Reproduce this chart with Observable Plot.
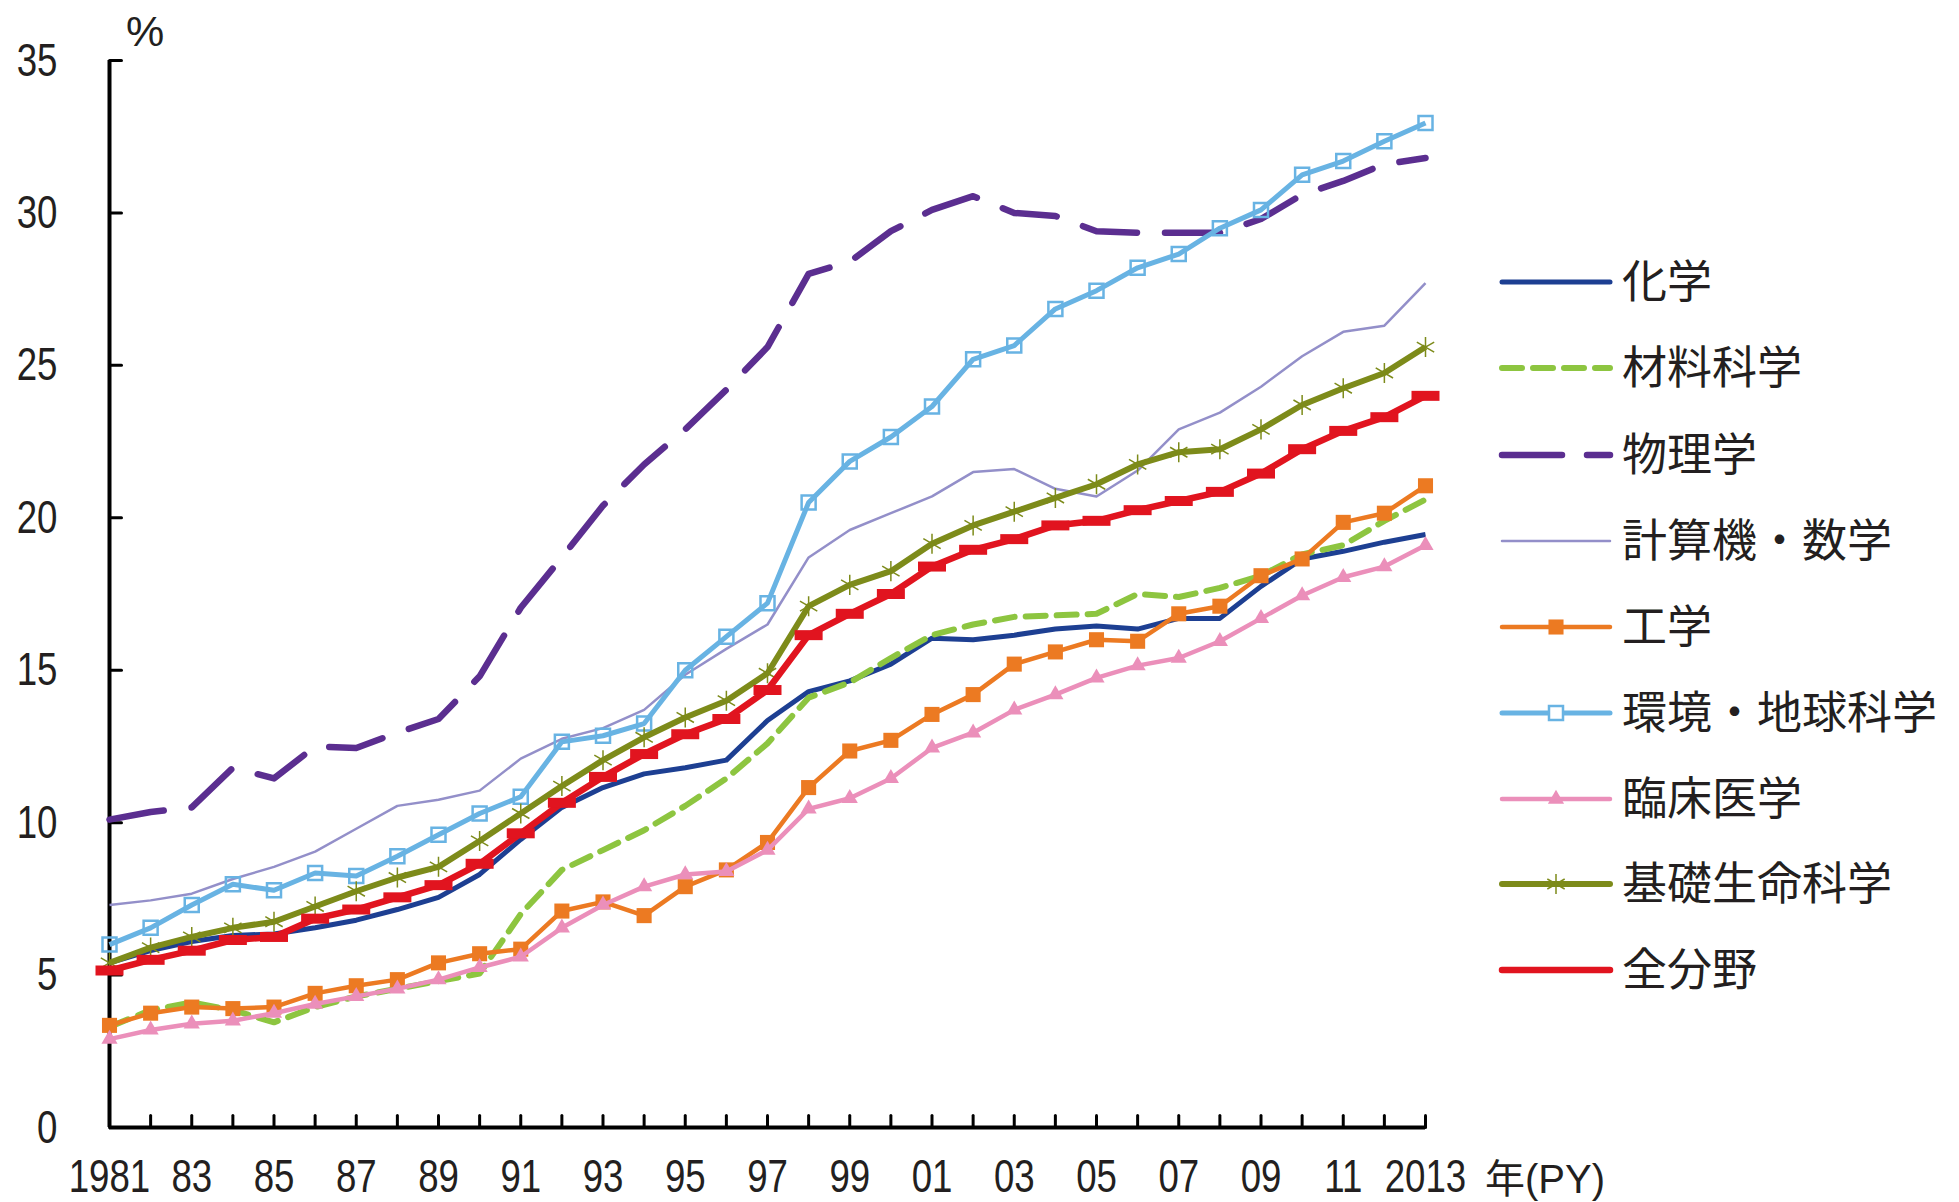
<!DOCTYPE html>
<html>
<head>
<meta charset="utf-8">
<script src="https://cdn.jsdelivr.net/npm/d3@7"></script>
<script src="https://cdn.jsdelivr.net/npm/@observablehq/plot@0.6"></script>
<style>
  html, body { margin: 0; padding: 0; background: #fff; }
  #wrap { position: relative; width: 1959px; height: 1202px; overflow: hidden; }
  #wrap svg.overlay { position: absolute; left: 0; top: 0; pointer-events: none; }
</style>
</head>
<body>
<div id="wrap"></div>
<script>
// Publication years (PY)
const years = [1981,1982,1983,1984,1985,1986,1987,1988,1989,1990,1991,1992,1993,1994,1995,1996,1997,
               1998,1999,2000,2001,2002,2003,2004,2005,2006,2007,2008,2009,2010,2011,2012,2013];

// Share (%) by field, one value per year
const chemistry   = [5.4,5.8,6.1,6.3,6.35,6.55,6.8,7.15,7.55,8.3,9.45,10.5,11.15,11.6,11.8,12.05,13.35,
                     14.3,14.65,15.2,16.05,16.0,16.15,16.35,16.45,16.35,16.7,16.7,17.75,18.65,18.9,19.2,19.45];
const materials   = [3.3,3.85,4.1,3.85,3.45,3.95,4.3,4.55,4.8,5.05,7.0,8.45,9.1,9.75,10.55,11.45,12.6,
                     14.1,14.6,15.4,16.15,16.5,16.75,16.8,16.85,17.5,17.4,17.7,18.1,18.8,19.1,19.9,20.6];
const physics     = [10.1,10.35,10.5,11.8,11.45,12.5,12.45,12.95,13.4,14.8,17.05,18.7,20.4,21.75,22.9,24.2,25.6,
                     28.0,28.4,29.4,30.1,30.55,30.0,29.9,29.4,29.35,29.35,29.35,29.8,30.6,31.05,31.6,31.8];
const computing   = [7.3,7.45,7.67,8.15,8.55,9.05,9.8,10.55,10.75,11.05,12.1,12.75,13.1,13.7,14.85,15.7,16.5,
                     18.7,19.6,20.15,20.7,21.5,21.6,20.95,20.7,21.55,22.9,23.45,24.3,25.3,26.1,26.3,27.7];
const engineering = [3.35,3.75,3.95,3.9,3.95,4.4,4.65,4.85,5.4,5.7,5.85,7.1,7.4,6.95,7.9,8.45,9.35,
                     11.15,12.35,12.7,13.55,14.2,15.2,15.6,16.0,15.95,16.85,17.1,18.1,18.65,19.85,20.15,21.05];
const environment = [6.0,6.55,7.3,7.98,7.78,8.35,8.25,8.9,9.6,10.3,10.85,12.65,12.85,13.25,15.0,16.1,17.2,
                     20.5,21.85,22.65,23.65,25.2,25.65,26.85,27.45,28.2,28.65,29.5,30.1,31.25,31.7,32.35,32.95];
const clinical    = [2.9,3.2,3.4,3.5,3.75,4.05,4.3,4.55,4.85,5.25,5.6,6.55,7.3,7.9,8.3,8.4,9.1,
                     10.45,10.8,11.45,12.45,12.95,13.7,14.2,14.75,15.15,15.4,15.95,16.7,17.45,18.05,18.4,19.1];
const biology     = [5.4,5.9,6.25,6.55,6.75,7.25,7.75,8.2,8.55,9.4,10.3,11.2,12.05,12.8,13.45,14.0,14.9,
                     17.1,17.8,18.25,19.15,19.75,20.2,20.65,21.1,21.75,22.15,22.25,22.9,23.7,24.25,24.75,25.6];
const allFields   = [5.15,5.5,5.8,6.15,6.25,6.85,7.15,7.55,7.95,8.65,9.65,10.65,11.5,12.25,12.9,13.4,14.35,
                     16.15,16.85,17.5,18.4,18.95,19.3,19.75,19.9,20.25,20.55,20.85,21.45,22.25,22.85,23.3,24.0];

const seriesNames = ["化学","材料科学","物理学","計算機・数学","工学","環境・地球科学","臨床医学","基礎生命科学","全分野"];
const seriesValues = [chemistry, materials, physics, computing, engineering, environment, clinical, biology, allFields];

// Axis ticks and labels
const yTicks = [0, 5, 10, 15, 20, 25, 30, 35];
const xLabelYears = [1981,1983,1985,1987,1989,1991,1993,1995,1997,1999,2001,2003,2005,2007,2009,2011,2013];
const xLabels = ["1981","83","85","87","89","91","93","95","97","99","01","03","05","07","09","11","2013"];

// A wide horizontal bar marker
const barSymbol = {
  draw(context) {
    context.moveTo(-14, -5); context.lineTo(14, -5);
    context.lineTo(14, 5); context.lineTo(-14, 5); context.closePath();
  }
};

// Line and marker styling per field
const styles = {
  "化学":         {stroke: "#1d3f92", width: 5},
  "材料科学":     {stroke: "#8dc540", width: 6, dash: "20,11"},
  "物理学":       {stroke: "#5b2e90", width: 6.5, dash: "55,28"},
  "計算機・数学": {stroke: "#938fc9", width: 2.5},
  "工学":         {stroke: "#ec7a22", width: 4.5, symbol: "square", r: 8.5, fill: "#ec7a22"},
  "環境・地球科学": {stroke: "#68b3e3", width: 5, symbol: "square", r: 7.9, fill: "none", mstroke: "#68b3e3", mwidth: 2.5},
  "臨床医学":     {stroke: "#eb8fba", width: 4.5, symbol: "triangle", r: 6, fill: "#eb8fba"},
  "基礎生命科学": {stroke: "#7d8b1a", width: 6, symbol: "asterisk", r: 9.5, fill: "none", mstroke: "#7d8b1a", mwidth: 1.5},
  "全分野":       {stroke: "#e1141f", width: 6.5, symbol: barSymbol, r: 8, fill: "#e1141f"}
};

// Long-format table built from the arrays above
const table = [];
seriesNames.forEach((name, i) => {
  years.forEach((year, j) => table.push({series: name, year, value: seriesValues[i][j]}));
});

const tickLine = (dx, dy) => ({draw(context, l) { context.moveTo(0, 0); context.lineTo(dx * l, dy * l); }});
const textColor = "#231f20";
const numFont = "'Liberation Sans', Arial, sans-serif";

const marks = [
  // axis lines
  Plot.ruleX([1981], {y1: 0, y2: 35, stroke: "#000", strokeWidth: 4}),
  Plot.ruleY([0], {x1: 1981, x2: 2013, stroke: "#000", strokeWidth: 4}),
  // inward tick marks
  Plot.vector(yTicks, {x: () => 1981, y: d => d, length: 12, shape: tickLine(1, 0), anchor: "start", stroke: "#000", strokeWidth: 3}),
  Plot.vector(years.slice(1), {x: d => d, y: () => 0, length: 12, shape: tickLine(0, -1), anchor: "start", stroke: "#000", strokeWidth: 3}),
  // tick labels
  Plot.axisY(yTicks, {tickSize: 0, tickPadding: 52, label: null, fontSize: 47, fontFamily: numFont, fill: textColor}),
  Plot.axisX(xLabelYears, {tickSize: 0, tickPadding: 31, label: null, fontSize: 47, fontFamily: numFont, fill: textColor,
                           tickFormat: d => xLabels[xLabelYears.indexOf(d)]})
];

seriesNames.forEach(name => {
  const s = styles[name];
  const rows = table.filter(d => d.series === name);
  marks.push(Plot.line(rows, {x: "year", y: "value", stroke: s.stroke, strokeWidth: s.width,
    strokeDasharray: s.dash, strokeLinecap: s.dash ? "round" : "butt", strokeLinejoin: "round", curve: "linear"}));
  if (s.symbol) {
    marks.push(Plot.dot(rows, {x: "year", y: "value", symbol: () => s.symbol, r: s.r,
      fill: s.fill, stroke: s.mstroke || "none", strokeWidth: s.mwidth || 0}));
  }
});

const chart = Plot.plot({
  width: 1959,
  height: 1202,
  marginLeft: 109,
  marginRight: 534,
  marginTop: 60,
  marginBottom: 75,
  x: {domain: [1981, 2013]},
  y: {domain: [0, 35]},
  symbol: {type: "identity"},
  style: {background: "#fff", overflow: "visible"},
  marks
});
document.getElementById("wrap").appendChild(chart);

// Condensed numerals on both axes: squeeze each tick label horizontally about its anchor
d3.select(chart).selectAll("g[aria-label$='tick label'] text").each(function() {
  const t = this.getAttribute("transform") || "";
  this.setAttribute("transform", `${t} scale(0.78,1)`);
});

// Unit, axis title and legend
const overlay = d3.select("#wrap").append("svg")
  .attr("class", "overlay").attr("width", 1959).attr("height", 1202);

overlay.append("text").attr("x", 126).attr("y", 46)
  .style("font-family", "'Liberation Sans', sans-serif").style("font-size", "43px").attr("fill", textColor)
  .text("%");

overlay.append("text").attr("x", 1485).attr("y", 1193)
  .style("font-family", "'Liberation Sans', 'Noto Sans CJK JP', sans-serif").style("font-size", "40px").attr("fill", textColor)
  .text("年(PY)");

const legendY = [282, 368, 455, 541, 627, 713, 799, 884, 970];
seriesNames.forEach((name, i) => {
  const s = styles[name];
  const g = overlay.append("g").attr("transform", `translate(0,${legendY[i]})`);
  g.append("line").attr("x1", 1502).attr("x2", 1610).attr("y1", 0).attr("y2", 0)
    .attr("stroke", s.stroke).attr("stroke-width", s.width)
    .attr("stroke-dasharray", name === "物理学" ? "60,25" : (s.dash || null))
    .attr("stroke-linecap", "round");
  if (s.symbol && name !== "全分野") {
    const type = {square: d3.symbolSquare, triangle: d3.symbolTriangle, asterisk: d3.symbolAsterisk}[s.symbol];
    g.append("path").attr("transform", "translate(1556,0)")
      .attr("d", d3.symbol(type, Math.PI * s.r * s.r)())
      .attr("fill", s.fill === "none" ? "#fff" : s.fill)
      .attr("stroke", s.mstroke || "none").attr("stroke-width", s.mwidth || 0);
  }
  g.append("text").attr("x", 1622).attr("y", 0).attr("dy", "0.36em")
    .style("font-family", "'Noto Sans CJK JP', sans-serif").style("font-size", "45px").attr("fill", textColor)
    .text(name);
});
</script>
</body>
</html>
